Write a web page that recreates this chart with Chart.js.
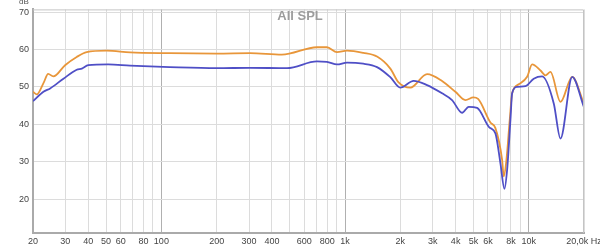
<!DOCTYPE html>
<html>
<head>
<meta charset="utf-8">
<script src="https://cdn.jsdelivr.net/npm/chart.js@4/dist/chart.umd.min.js"></script>
<style>
html, body { margin: 0; padding: 0; background: #fff; }
</style>
</head>
<body>
<canvas id="myChart" width="600" height="246"></canvas>
<script>
// orange curve (upper one)
var orangeFreq = [20, 21, 22.8, 24.2, 25.8, 29.9, 34.6, 39.2, 50.4, 67.6, 111, 200, 304, 453, 703, 797, 904, 1025, 1257, 1493, 1764, 1950, 2268, 2796, 3375, 3988, 4522, 5000, 5300, 6188, 6588, 7166, 7311, 7563, 7883, 8124, 8825, 9804, 10440, 11590, 12340, 13140, 14890, 17250, 19950]
var orangeSpl = [48.7, 48.0, 51.0, 53.5, 52.8, 55.8, 58.0, 59.3, 59.7, 59.2, 59.0, 58.9, 59.0, 58.6, 60.6, 60.6, 59.3, 59.7, 59.1, 58.1, 54.9, 51.3, 49.8, 53.4, 51.6, 48.7, 46.5, 47.2, 46.8, 40.5, 39.0, 30.5, 26.1, 30.5, 41.2, 48.3, 50.7, 52.7, 56.0, 54.4, 53.1, 54.0, 46.0, 52.7, 45.6]

// blue curve (lower one)
var blueFreq = [20, 22.8, 24.8, 29.3, 34.6, 36.9, 40, 51.3, 67.6, 111, 200, 304, 483, 703, 797, 904, 1025, 1257, 1493, 1764, 2000, 2363, 2796, 3375, 3825, 4338, 4714, 5236, 6100, 6588, 7015, 7376, 7630, 7953, 8124, 8650, 9600, 10650, 11840, 13690, 14890, 17250, 19950]
var blueSpl = [46.2, 48.7, 49.6, 52.2, 54.6, 54.9, 55.8, 56.0, 55.7, 55.3, 55.0, 55.1, 55.0, 56.8, 56.7, 56.0, 56.5, 56.2, 55.3, 52.6, 49.8, 51.6, 50.5, 48.3, 46.5, 43.1, 44.7, 44.4, 39.2, 37.6, 29.6, 22.8, 27.9, 41.2, 48.3, 50.0, 50.2, 52.2, 52.8, 45.6, 36.2, 52.7, 44.7]

// axis stuff
var gridFreqs = [20, 30, 40, 50, 60, 70, 80, 90, 100, 200, 300, 400, 500, 600, 700, 800, 900, 1000, 2000, 3000, 4000, 5000, 6000, 7000, 8000, 9000, 10000, 20000]
var tickFreqs = [20, 30, 40, 50, 60, 80, 100, 200, 300, 400, 600, 800, 1000, 2000, 3000, 4000, 5000, 6000, 8000, 10000, 20000]
var tickLabels = ['20', '30', '40', '50', '60', '80', '100', '200', '300', '400', '600', '800', '1k', '2k', '3k', '4k', '5k', '6k', '8k', '10k', '20,0k Hz']
var dbTicks = [20, 30, 40, 50, 60, 70]

function toPoints(xs, ys) {
    var pts = []
    for (var i = 0; i < xs.length; i++) {
        pts.push({ x: xs[i], y: ys[i] })
    }
    return pts
}

var framePlugin = {
    id: 'frame',
    afterDraw: function (chart) {
        var ctx = chart.ctx
        var a = chart.chartArea
        ctx.save()
        ctx.strokeStyle = '#c4c4c4'
        ctx.lineWidth = 1
        ctx.beginPath()
        ctx.moveTo(a.left, a.top + 0.5)
        ctx.lineTo(a.right - 0.5, a.top + 0.5)
        ctx.lineTo(a.right - 0.5, a.bottom)
        ctx.stroke()

        ctx.fillStyle = '#9c9c9c'
        ctx.font = 'bold 13px "Liberation Sans"'
        ctx.textAlign = 'center'
        ctx.textBaseline = 'middle'
        ctx.fillText('All SPL', chart.width / 2, 16)

        ctx.fillStyle = '#555'
        ctx.font = '8px "Liberation Sans"'
        ctx.fillText('dB', 24, 2)
        ctx.restore()
    }
}

function buildGraph() {
    var ctx = document.getElementById('myChart').getContext('2d')
    var chart = new Chart(ctx, {
        type: 'line',
        data: {
            datasets: [{
                data: toPoints(blueFreq, blueSpl),
                borderColor: '#4f4fc6',
                borderWidth: 1.8,
                pointRadius: 0,
                cubicInterpolationMode: 'monotone',
                order: 1
            }, {
                data: toPoints(orangeFreq, orangeSpl),
                borderColor: '#e8963a',
                borderWidth: 1.8,
                pointRadius: 0,
                cubicInterpolationMode: 'monotone',
                order: 2
            }]
        },
        options: {
            responsive: false,
            animation: false,
            layout: { padding: { left: 0, right: 16, top: 8, bottom: 0 } },
            plugins: { legend: { display: false }, tooltip: { enabled: false } },
            scales: {
                x: {
                    type: 'logarithmic',
                    min: 20,
                    max: 20000,
                    afterBuildTicks: function (scale) {
                        scale.ticks = gridFreqs.map(function (v) { return { value: v } })
                    },
                    afterFit: function (scale) {
                        scale.height = 13
                        scale.paddingLeft = 0
                        scale.paddingRight = 0
                    },
                    ticks: {
                        autoSkip: false,
                        maxRotation: 0,
                        padding: 3,
                        color: '#444',
                        font: { family: 'Liberation Sans', size: 9 },
                        callback: function (value) {
                            var i = tickFreqs.indexOf(value)
                            return i >= 0 ? tickLabels[i] : ''
                        }
                    },
                    grid: {
                        drawTicks: false,
                        color: function (c) {
                            var v = c.tick ? c.tick.value : 0
                            return (v == 100 || v == 1000 || v == 10000) ? '#b0b0b0' : '#dcdcdc'
                        }
                    },
                    border: { color: '#aaa', width: 2 }
                },
                y: {
                    min: 11,
                    max: 70.7,
                    afterBuildTicks: function (scale) {
                        scale.ticks = dbTicks.map(function (v) { return { value: v } })
                    },
                    afterFit: function (scale) {
                        scale.width = 33
                    },
                    ticks: {
                        padding: 4,
                        color: '#444',
                        font: { family: 'Liberation Sans', size: 9 }
                    },
                    grid: { drawTicks: false, color: '#dcdcdc' },
                    border: { color: '#aaa', width: 2 }
                }
            }
        },
        plugins: [framePlugin]
    })
}

buildGraph()
</script>
</body>
</html>
